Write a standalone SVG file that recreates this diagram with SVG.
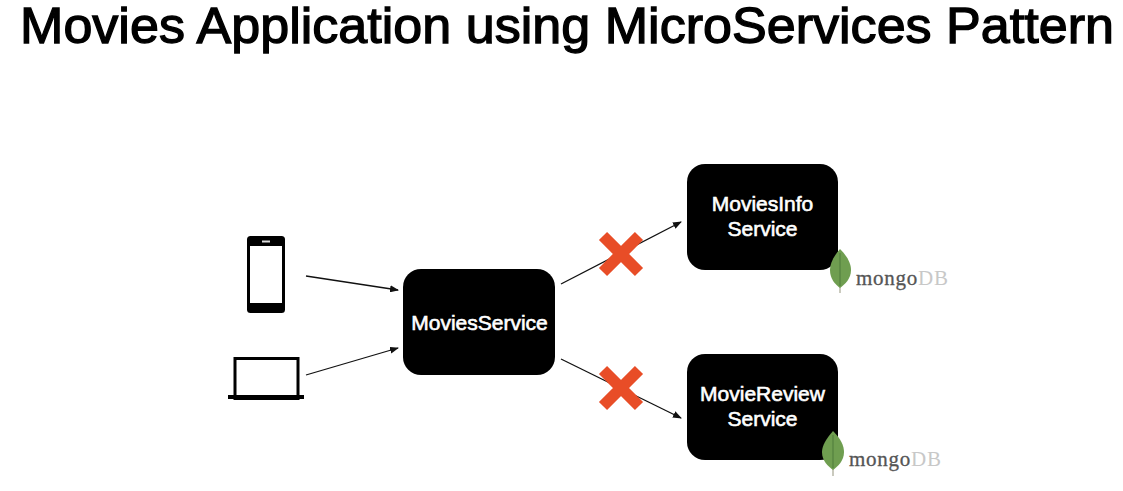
<svg xmlns="http://www.w3.org/2000/svg" width="1123" height="491" viewBox="0 0 1123 491">
<style>
.t{font-family:"Liberation Sans",Arial,sans-serif;font-size:21px;fill:#fff;stroke:#fff;stroke-width:.6px;text-anchor:middle}
.box{fill:#000}
.c{stroke:#111;stroke-width:1.3;fill:none;marker-end:url(#a)}
.x{stroke:#e84d27;stroke-width:11.5;fill:none}
.m{font-family:"Liberation Serif",serif;font-size:21px;letter-spacing:.75px;stroke-width:.3px}
.leaf{fill:#6f9e50}
.rib{stroke:#4f7a3a;stroke-width:1;fill:none}
.stem{stroke:#b9b9a9;stroke-width:1.5;fill:none}
</style>
<defs><marker id="a" markerWidth="9" markerHeight="7" refX="8" refY="3.5" orient="auto" markerUnits="userSpaceOnUse"><path d="M0 0L9 3.5L0 7z" fill="#111"/></marker></defs>
<rect width="1123" height="491" fill="#fff"/>
<text id="title" x="567" y="43" font-family="'Liberation Sans',Arial,sans-serif" font-size="50" text-anchor="middle" fill="#000" stroke="#000" stroke-width="1.3" textLength="1094" lengthAdjust="spacingAndGlyphs">Movies Application using MicroServices Pattern</text>
<g id="connectors">
<path class="c" d="M306 276L398 290"/>
<path class="c" d="M306 375L398 348"/>
<path class="c" d="M561 284L681 222"/>
<path class="c" d="M561 359L681 418"/>
</g>
<g id="phone">
<rect x="247" y="236" width="38" height="77" rx="3.5" fill="#000"/>
<rect x="250" y="246" width="32" height="57" fill="#fff"/>
<rect x="262" y="240.500" width="8" height="2" fill="#ddd"/>
</g>
<g id="laptop">
<rect x="235" y="358.500" width="63" height="40" fill="#fff" stroke="#000" stroke-width="3"/>
<rect x="228" y="395" width="76" height="4" fill="#000"/>
</g>
<g id="moviesService"><rect class="box" x="403" y="269" width="152" height="106" rx="18"/><text class="t" x="479.500" y="329.500">MoviesService</text></g>
<g id="moviesInfoService"><rect class="box" x="687" y="164" width="151" height="106" rx="18"/><text class="t" x="762.500" y="211">MoviesInfo</text><text class="t" x="762.500" y="236">Service</text></g>
<g id="movieReviewService"><rect class="box" x="687" y="354" width="151" height="106" rx="18"/><text class="t" x="762.500" y="401">MovieReview</text><text class="t" x="762.500" y="426">Service</text></g>
<g id="cross1"><path class="x" d="M603 236L639 272M639 236L603 272"/></g>
<g id="cross2"><path class="x" d="M603 370L639 406M639 370L603 406"/></g>
<g id="mongo1">
<path class="stem" d="M840 284V293"/>
<path class="leaf" d="M840 249C848 257 851 264 851 270C851 279 845 284 840 288C835 284 830 279 830 270C830 264 833 257 840 249Z"/>
<path class="rib" d="M840 253V286"/>
<text class="m" x="856" y="285" fill="#555" stroke="#555">mongo<tspan fill="#c8c8c8" stroke="none">DB</tspan></text>
</g>
<g id="mongo2">
<path class="stem" d="M833 467V476"/>
<path class="leaf" d="M833 431C841 439 844 446 844 452C844 461 838 466 833 470C828 466 822 461 822 452C822 446 826 439 833 431Z"/>
<path class="rib" d="M833 435V468"/>
<text class="m" x="849" y="466" fill="#555" stroke="#555">mongo<tspan fill="#c8c8c8" stroke="none">DB</tspan></text>
</g>
</svg>
